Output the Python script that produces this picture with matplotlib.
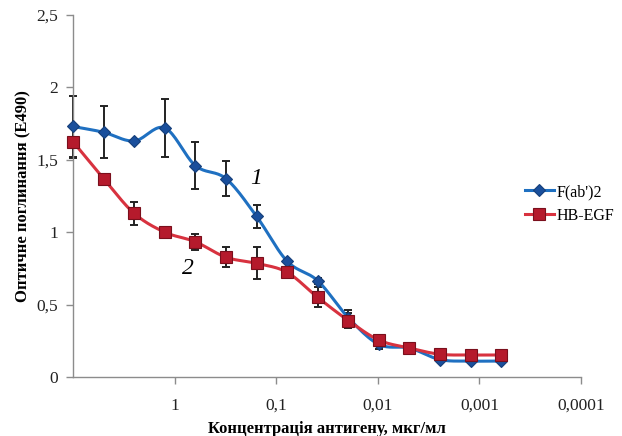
import numpy as np
import matplotlib
matplotlib.use("Agg")
import matplotlib.pyplot as plt
from matplotlib.ticker import FixedLocator, NullLocator

plt.rcParams['font.family'] = ['Liberation Serif', 'DejaVu Serif']

# Concentrations (two-fold dilutions), µg/ml
conc = [10, 5, 2.5, 1.25, 0.625, 0.3125, 0.15625, 0.078125, 0.0390625,
        0.01953125, 0.009765625, 0.0048828125, 0.00244140625,
        0.001220703125, 0.0006103515625]

fab_values = [1.73, 1.69, 1.63, 1.72, 1.46, 1.37, 1.11, 0.80, 0.665,
              0.41, 0.225, 0.20, 0.12, 0.11, 0.11]
fab_err = [0.21, 0.18, 0.0, 0.20, 0.16, 0.12, 0.08, 0.0, 0.02,
           0.05, 0.03, 0.0, 0.0, 0.0, 0.0]

egf_values = [1.625, 1.37, 1.13, 1.00, 0.934, 0.827, 0.785, 0.723, 0.55,
              0.39, 0.255, 0.20, 0.157, 0.152, 0.152]
egf_err = [0.11, 0.0, 0.08, 0.0, 0.055, 0.07, 0.11, 0.0, 0.07,
           0.05, 0.02, 0.0, 0.0, 0.0, 0.0]

series_names = ["F(ab')2", "HB-EGF"]
xtick_vals = [1, 0.1, 0.01, 0.001, 0.0001]
xtick_labels = ["1", "0,1", "0,01", "0,001", "0,0001"]
ytick_vals = [0, 0.5, 1, 1.5, 2, 2.5]
ytick_labels = ["0", "0,5", "1", "1,5", "2", "2,5"]


def smooth(xs, ys, n=20):
    """Catmull-Rom path through the points in (log10 x, y) space for drawing."""
    lx = np.log10(np.asarray(xs, float))
    y = np.asarray(ys, float)
    P = np.column_stack([lx, y])
    P = np.vstack([2 * P[0] - P[1], P, 2 * P[-1] - P[-2]])
    out = []
    t = np.linspace(0, 1, n, endpoint=False)[:, None]
    for i in range(1, len(P) - 2):
        p0, p1, p2, p3 = P[i - 1], P[i], P[i + 1], P[i + 2]
        seg = 0.5 * ((2 * p1) + (-p0 + p2) * t + (2 * p0 - 5 * p1 + 4 * p2 - p3) * t ** 2
                     + (-p0 + 3 * p1 - 3 * p2 + p3) * t ** 3)
        out.append(seg)
    out.append(P[-2][None, :])
    out = np.vstack(out)
    return 10 ** out[:, 0], out[:, 1]


fig = plt.figure(figsize=(6.22, 4.36), dpi=100)
ax = fig.add_axes([73 / 622, 59 / 436, 508 / 622, 362 / 436])

blue_line = '#1f70c1'
blue_mark = '#1a4f9c'
red_line = '#d8323f'
red_mark = '#b51a2c'

for vals, errs in ((fab_values, fab_err), (egf_values, egf_err)):
    idx = [i for i, e in enumerate(errs) if e > 0]
    eb = ax.errorbar([conc[i] for i in idx], [vals[i] for i in idx],
                     yerr=[errs[i] for i in idx], fmt='none', ecolor='#222222',
                     elinewidth=1.4, capsize=3.2, capthick=1.4, zorder=2)
    for art in eb.lines[1] + eb.lines[2]:
        art.set_clip_on(False)

sx, sy = smooth(conc, fab_values)
ax.plot(sx, sy, color=blue_line, lw=2.2, zorder=3, clip_on=False)
sx, sy = smooth(conc, egf_values)
ax.plot(sx, sy, color=red_line, lw=2.2, zorder=3, clip_on=False)
ax.plot(conc, fab_values, linestyle='none', marker='D', ms=6.5,
        mfc=blue_mark, mec='#163f7a', mew=0.8, zorder=4, clip_on=False)
ax.plot(conc, egf_values, linestyle='none', marker='s', ms=8,
        mfc=red_mark, mec='#7a0f1c', mew=0.8, zorder=4, clip_on=False)

# legend proxies
h1, = ax.plot([], [], color=blue_line, lw=2.2, marker='D', ms=6.5,
              mfc=blue_mark, mec='#163f7a', mew=0.8)
h2, = ax.plot([], [], color=red_line, lw=2.2, marker='s', ms=8,
              mfc=red_mark, mec='#7a0f1c', mew=0.8)
leg = ax.legend([h1, h2], series_names, loc='upper left',
                bbox_to_anchor=(444 / 508, (377 - 176) / 362), frameon=False,
                fontsize=11.5, handlelength=1.8, handletextpad=0.15,
                labelspacing=0.5, borderpad=0)

ax.set_xscale('log')
ax.set_xlim(10, 0.0001)
ax.set_ylim(0, 2.5)
ax.xaxis.set_major_locator(FixedLocator(xtick_vals))
ax.xaxis.set_minor_locator(NullLocator())
ax.set_xticklabels(xtick_labels)
ax.set_yticks(ytick_vals)
ax.set_yticklabels(ytick_labels)

for s in ('top', 'right'):
    ax.spines[s].set_visible(False)
for s in ('left', 'bottom'):
    ax.spines[s].set_color('#8c8c8c')
    ax.spines[s].set_linewidth(1.0)
ax.tick_params(axis='both', colors='#8c8c8c', labelcolor='#222222',
               labelsize=12.5, length=5, width=1.0, direction='out')
ax.tick_params(axis='x', pad=10)
ax.tick_params(axis='y', pad=6)

ax.set_xlabel('Концентрація антигену, мкг/мл', fontsize=12, fontweight='bold',
              labelpad=5)
ax.set_ylabel('Оптичне поглинання (E490)', fontsize=12, fontweight='bold',
              labelpad=3)

ax.text(0.158, 1.37, '1', fontsize=17, fontstyle='italic', ha='center', va='center')
ax.text(0.738, 0.75, '2', fontsize=17, fontstyle='italic', ha='center', va='center')

fig.savefig('out.png', dpi=100)
